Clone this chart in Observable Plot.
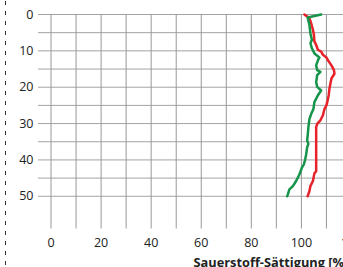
<!DOCTYPE html>
<html><head><meta charset="utf-8">
<script src="https://cdn.jsdelivr.net/npm/d3@7"></script>
<script src="https://cdn.jsdelivr.net/npm/@observablehq/plot@0.6"></script>
<style>
html,body{margin:0;padding:0;overflow:hidden;background:#fff;width:343px;height:267px}
#chart{position:relative;width:343px;height:267px;overflow:hidden}
#chart svg{max-width:none !important;width:371px !important;height:267px !important;display:block}
</style></head><body><div id="chart"></div>
<script>
const xLabel = "Sauerstoff-Sättigung [%]";
const xTicks = [0, 20, 40, 60, 80, 100, 120];
const yTicks = [0, 10, 20, 30, 40, 50];
const gridX = [0, 10, 20, 30, 40, 50, 60, 70, 80, 90, 100, 110, 120];
const gridY = [0, 5, 10, 15, 20, 25, 30, 35, 40, 45, 50];

const redDepth = [0, 1, 2.4, 4.2, 5.6, 7.4, 8.4, 9.7, 10.2, 11.1, 11.8, 12.6, 14, 15.3, 16.3, 17.6, 19, 20.4, 22.2, 23.6, 25, 26, 27.7, 29.1, 30.1, 31, 37.9, 43.1, 43.7, 45.8, 47.2, 48.6, 50];
const redValue = [101.2, 103.2, 103.9, 104.6, 105, 105.2, 105.9, 106.6, 107.9, 108.6, 110, 110.6, 112, 113, 113.2, 112, 111.6, 111.2, 110.9, 110.5, 110, 109.2, 108.6, 107.6, 106.3, 105.9, 105.9, 105.9, 105.2, 104.6, 103.6, 103.2, 102.5];

const greenDepth = [0, 0.8, 2.9, 5.2, 7, 7.9, 9.3, 10.7, 11.8, 12.6, 14, 15.3, 15.8, 16.7, 18.6, 19.9, 20.9, 22.2, 24.1, 26, 27.4, 28.8, 31, 33.3, 34.7, 35.6, 36.5, 38.5, 39.9, 41.2, 42.1, 44, 45.8, 47.2, 48.1, 49.5, 50];
const greenValue = [107.9, 102.5, 103.2, 103.6, 104.2, 103.6, 104.2, 105.2, 107.2, 106.6, 105.9, 106.3, 107.6, 106.3, 105.9, 106.3, 107.9, 106.6, 105.2, 104.8, 103.9, 103.2, 102.8, 102.5, 102.3, 102.8, 102.3, 101.9, 101.5, 101, 100.2, 99.2, 97.9, 96.6, 95.2, 94.6, 94.3];

const red = redDepth.map((d, i) => ({depth: d, value: redValue[i]}));
const green = greenDepth.map((d, i) => ({depth: d, value: greenValue[i]}));

const chart = Plot.plot({
  width: 371,
  height: 267,
  marginLeft: 38,
  marginRight: 0,
  marginTop: 14,
  marginBottom: 38.5,
  style: {fontFamily: "'Open Sans', sans-serif", fontSize: "12.5px", color: "#222", background: "#fff", overflow: "visible", maxWidth: "none"},
  x: {domain: [-5, 128]},
  y: {domain: [0, 59], reverse: true},
  marks: [
    Plot.ruleY(gridY, {stroke: "#a3a3a3", strokeWidth: 1}),
    Plot.ruleX(gridX, {stroke: "#999", strokeWidth: 1}),
    Plot.axisX(xTicks, {tickSize: 0, tickPadding: 9, label: null}),
    Plot.axisY(yTicks, {tickSize: 0, tickPadding: 5, label: null}),
    Plot.line(red, {x: "value", y: "depth", stroke: "#e8222b", strokeWidth: 2.5}),
    Plot.line(green, {x: "value", y: "depth", stroke: "#16954a", strokeWidth: 2.5}),
    Plot.text([xLabel], {text: d => d, frameAnchor: "bottom-left", dx: 155, dy: 33.5, textAnchor: "start", lineAnchor: "middle", fontWeight: "bold", fontSize: 12.8, fill: "#222"})
  ]
});

d3.select(chart).append("line")
  .attr("x1", 5.5).attr("x2", 5.5).attr("y1", 1).attr("y2", 267)
  .attr("stroke", "#333").attr("stroke-width", 1).attr("stroke-dasharray", "4,6");

document.getElementById("chart").append(chart);
</script></body></html>
